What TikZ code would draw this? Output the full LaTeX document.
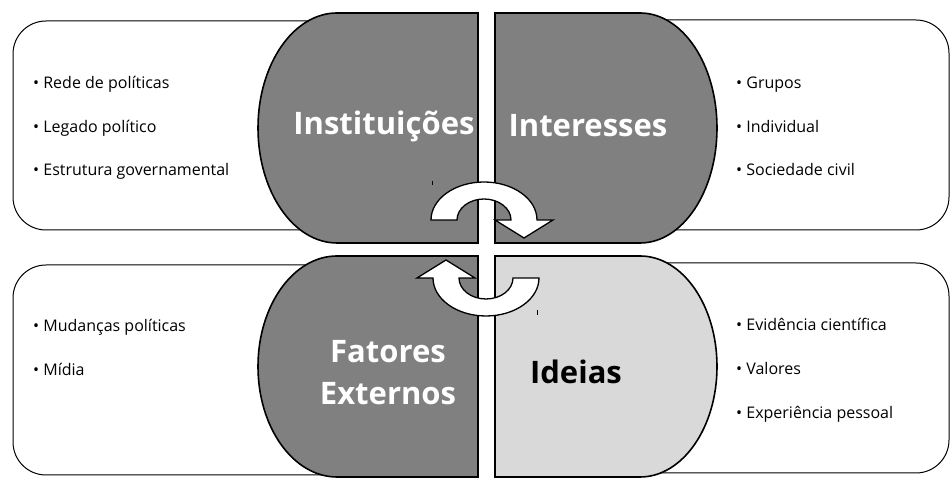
\documentclass[tikz,border=0pt]{standalone}
\usepackage{fontspec}
\setmainfont{Open Sans}
\definecolor{darkpart}{HTML}{808080}
\definecolor{lightpart}{HTML}{D9D9D9}
\tikzset{
  listbox/.style={draw, line width=1pt, rounded corners=33pt},
  part/.style={draw, line width=1.6pt, fill=darkpart},
  title/.style={font=\fontsize{31}{42}\selectfont\bfseries, text=white, align=center},
  item/.style={anchor=base west, inner sep=0pt, font=\fontsize{16}{19}\selectfont},
  turn/.style={draw, line width=1.3pt, fill=white, line join=miter},
}
\begin{document}
\begin{tikzpicture}[x=1pt, y=1pt]
    \useasboundingbox (0,0) rectangle (951,478);
    % boxes behind the four parts
    \draw[listbox] (13,248) rectangle (420,457);
    \draw[listbox] (540,248) rectangle (949,458);
    \draw[listbox] (13,3) rectangle (420,213);
    \draw[listbox] (540,5) rectangle (949,215);
    % the four parts
    \draw[part] (478,465) -- (337,465) arc[start angle=90, end angle=270, x radius=79, y radius=115] -- (478,235) -- cycle;
    \draw[part] (495,465) -- (640,465) arc[start angle=90, end angle=-90, x radius=77, y radius=115] -- (495,235) -- cycle;
    \draw[part] (478,222) -- (337,222) arc[start angle=90, end angle=270, x radius=79, y radius=110.5] -- (478,1) -- cycle;
    \draw[part, fill=lightpart] (495,222) -- (640,222) arc[start angle=90, end angle=-90, x radius=77, y radius=110.5] -- (495,1) -- cycle;
    \node[title] (inst) at (384,352) {Instituições};
    \node[title] (inte) at (588,352) {Interesses};
    \node[title] (fat) at (388,105) {Fatores\\Externos};
    \node[title, text=black] (ide) at (576,106) {Ideias};
    % lists
    \foreach \txt [count=\i] in {Rede de políticas, Legado político, Estrutura governamental}
        \node[item] (inst-\i) at (33,{389-(\i-1)*43.5}) {• \txt};
    \foreach \txt [count=\i] in {Grupos, Individual, Sociedade civil}
        \node[item] (inte-\i) at (736,{389-(\i-1)*43.5}) {• \txt};
    \foreach \txt [count=\i] in {Mudanças políticas, Mídia}
        \node[item] (fat-\i) at (33,{146-(\i-1)*43.5}) {• \txt};
    \foreach \txt [count=\i] in {Evidência científica, Valores, Experiência pessoal}
        \node[item] (ide-\i) at (736,{147-(\i-1)*44}) {• \txt};
    % turning arrows
    \draw[turn] (431,258) arc[start angle=180, end angle=0, x radius=53, y radius=38] -- (553,258) -- (524,240) -- (495,258) -- (511,258) arc[start angle=0, end angle=180, x radius=27, y radius=21] -- cycle;
    \draw[turn, rotate around={180:(485,229)}] (431,258) arc[start angle=180, end angle=0, x radius=53, y radius=38] -- (553,258) -- (524,240) -- (495,258) -- (511,258) arc[start angle=0, end angle=180, x radius=27, y radius=21] -- cycle;
    % small marks
    \draw[line width=0.8pt] (432,297) -- (432,293);
    \draw[line width=0.8pt] (537,168) -- (537,163);
\end{tikzpicture}
\end{document}
